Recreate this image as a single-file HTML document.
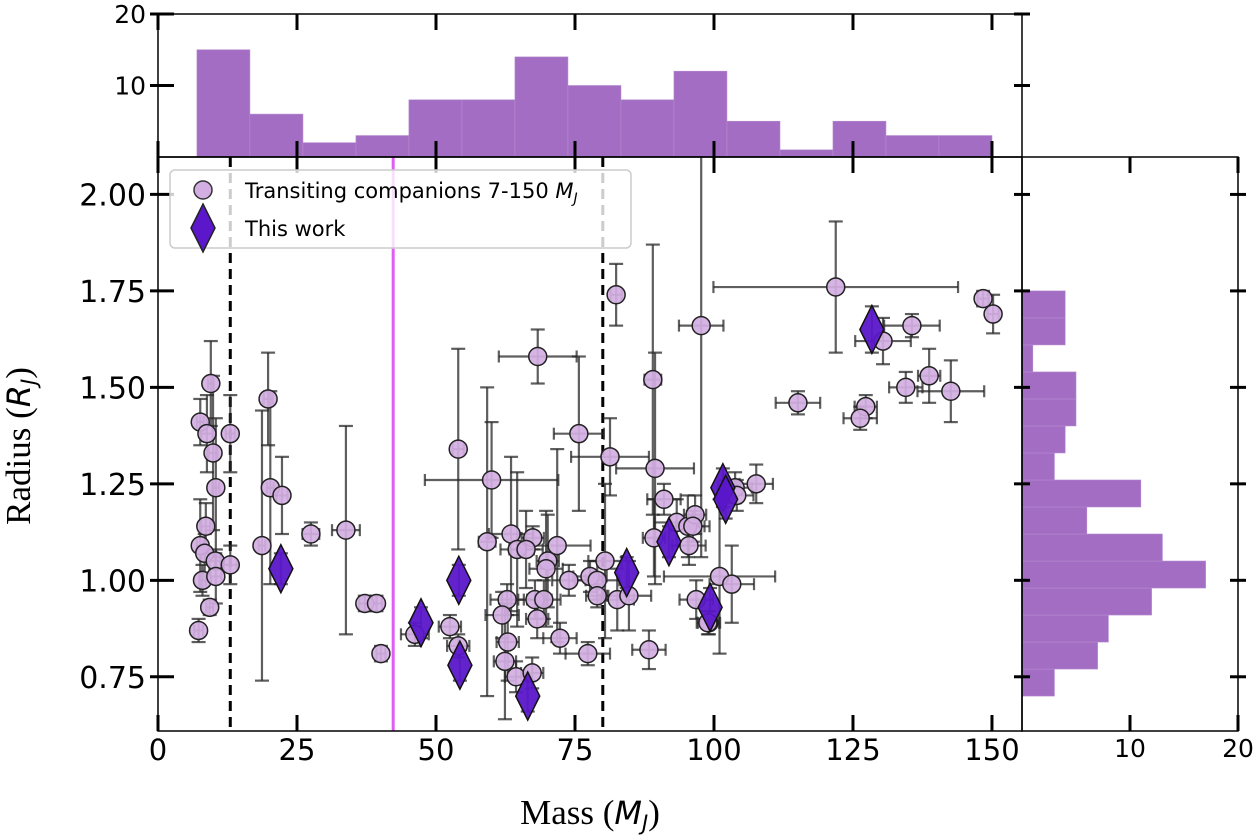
<!DOCTYPE html>
<html><head><meta charset="utf-8">
<style>
html,body{margin:0;padding:0;background:#fff;}
svg{display:block;font-family:"DejaVu Sans","Liberation Sans",sans-serif;}
</style></head>
<body>
<svg id="chart" width="1258" height="840" viewBox="0 0 1258 840" xmlns="http://www.w3.org/2000/svg">
<defs><clipPath id="mainClip"><rect x="158" y="157" width="864" height="574"/></clipPath></defs>
<g id="topHist"></g>
<g id="rightHist"></g>
<g id="main" clip-path="url(#mainClip)"></g>
<g id="axes"></g>
<text x="590" y="824" text-anchor="middle" font-family="Liberation Serif, serif" font-size="35">Mass (<tspan font-style="italic" font-family="DejaVu Sans, sans-serif" font-size="32">M</tspan><tspan font-style="italic" font-family="DejaVu Sans, sans-serif" font-size="21" dy="6">J</tspan><tspan dy="-6">)</tspan></text>
<text transform="translate(30,446) rotate(-90)" text-anchor="middle" font-family="Liberation Serif, serif" font-size="35">Radius (<tspan font-style="italic" font-family="DejaVu Sans, sans-serif" font-size="32">R</tspan><tspan font-style="italic" font-family="DejaVu Sans, sans-serif" font-size="21" dy="6">J</tspan><tspan dy="-6">)</tspan></text>
<g>
<rect x="170" y="170" width="461" height="78" rx="5" fill="#fff" fill-opacity="0.8" stroke="#ccc" stroke-width="1.5"/>
<circle cx="203" cy="190" r="9" fill="#d2aee2" stroke="#333" stroke-width="1.5"/>
<polygon points="203,204 215,228 203,252 191,228" fill="#5b17c9" stroke="#222" stroke-width="1.5"/>
<text x="245" y="198" font-size="21">Transiting companions 7-150 <tspan font-style="italic">M</tspan><tspan font-style="italic" font-size="14" dy="5">J</tspan></text>
<text x="245" y="236" font-size="21">This work</text>
</g>
</svg>
<script>
// ---- data ----
const histMassEdges = [7,16.53,26.07,35.6,45.13,54.67,64.2,73.73,83.27,92.8,102.33,111.87,121.4,130.93,140.47,150];
const histMassCounts = [15,6,2,3,8,8,14,10,8,12,5,1,5,3,3];
const histRadiusEdges = [0.70,0.77,0.84,0.91,0.98,1.05,1.12,1.19,1.26,1.33,1.40,1.47,1.54,1.61,1.68,1.75];
const histRadiusCounts = [3,7,8,12,17,13,6,11,3,4,5,5,1,4,4];
const compMass = [7.6,9.5,8.8,9.9,10.4,8.6,7.6,8.4,10.3,8.0,10.4,9.3,7.3,13,13,19.8,20.2,22.3,18.7,27.5,33.8,37.2,39.3,40.1,46.2,
 54,68.3,75.7,81.3,89,89.4,60,59.2,63.5,67.4,64.6,66.2,71.8,70.1,69.8,73.9,77.7,79,80.4,79,82.6,84.7,62.8,67.8,69.4,61.9,68.2,72.3,77.3,88.3,52.5,54,62.9,62.4,64.4,67.3,
 89.2,91,93.3,95.3,96.6,96.2,95.5,101,96.8,99.1,97.7,82.4,
 121.9,148.4,150.2,130.4,135.6,115.1,127.3,126.3,134.5,138.7,142.6,107.6,103.8,104.1,103.2,98.9];
const compRadius = [1.41,1.51,1.38,1.33,1.24,1.14,1.09,1.07,1.05,1.00,1.01,0.93,0.87,1.38,1.04,1.47,1.24,1.22,1.09,1.12,1.13,0.94,0.94,0.81,0.86,
 1.34,1.58,1.38,1.32,1.52,1.29,1.26,1.10,1.12,1.11,1.08,1.08,1.09,1.05,1.03,1.00,1.01,1.00,1.05,0.96,0.95,0.96,0.95,0.95,0.95,0.91,0.90,0.85,0.81,0.82,0.88,0.83,0.84,0.79,0.75,0.76,
 1.11,1.21,1.15,1.14,1.17,1.14,1.09,1.01,0.95,0.89,1.66,1.74,
 1.76,1.73,1.69,1.62,1.66,1.46,1.45,1.42,1.50,1.53,1.49,1.25,1.24,1.22,0.99,0.89];
const compMassErr = [0.6,0.5,1,0.8,0.6,0.8,0.6,0.6,1,0.6,1,0.6,0.8,0.8,1.2,0.8,0.6,1,0.6,1.5,2.5,1,1,0.8,2.5,
 1,7,4.5,7,1.5,7,12,1.5,4,2,3,3,6,2,3,3,3,4,3,2,3,4,3,3,3,3,2,3,4,3,2,2,2,2,2,2,
 2,3,4,3,2,3,3,10,3,2,4,1,
 22,1,1,5,5,4,2,3,3,2,6,3,3,3,4,2];
const compRadErr = [0.06,0.11,0.1,0.2,0.18,0.06,0.12,0.05,0.02,0.04,0.07,0.02,0.03,0.1,0.05,0.12,0.25,0.1,0.35,0.03,0.27,0.02,0.02,0.02,0.03,
 0.26,0.07,0.2,0.1,0.35,0.3,0.15,0.4,0.2,0.03,0.2,0.1,0.25,0.12,0.15,0.04,0.04,0.05,0.2,0.03,0.08,0.09,0.04,0.05,0.05,0.06,0.05,0.04,0.03,0.05,0.03,0.03,0.1,0.15,0.04,0.04,
 0.1,0.04,0.06,0.08,0.05,0.04,0.05,0.2,0.05,0.03,0.6,0.08,
 0.17,0.02,0.05,0.06,0.03,0.03,0.03,0.03,0.04,0.07,0.08,0.05,0.04,0.04,0.1,0.03];
const workMass = [22.1,47.3,54.1,54.3,66.5,84.3,91.9,99.3,101.6,102.1,128.4];
const workRadius = [1.03,0.89,1.00,0.78,0.70,1.02,1.10,0.93,1.24,1.21,1.65];
const workRadErr = [0.04,0.04,0.04,0.04,0.04,0.04,0.04,0.05,0.05,0.05,0.06];
const xTicks = [0,25,50,75,100,125,150];
const yTicks = [0.75,1.00,1.25,1.50,1.75,2.00];
const yTickLabels = ["0.75","1.00","1.25","1.50","1.75","2.00"];
const topHistTicks = [10,20];
const rightHistTicks = [10,20];
const boundaryLines = [13,80];
const deuteriumLine = 42.3;

// ---- scales ----
const X0=158,X1=1022,Y0=731,Y1=157;
const xMin=0,xMax=155.4,yMin=0.6095,yMax=2.097;
const sx=m=>X0+(m-xMin)/(xMax-xMin)*(X1-X0);
const sy=r=>Y0-(r-yMin)/(yMax-yMin)*(Y0-Y1);
const TH0=157,TH1=14; const sth=c=>TH0-c*(TH0-TH1)/20;
const RH0=1022,RH1=1238; const srh=c=>RH0+c*(RH1-RH0)/20;
const NS="http://www.w3.org/2000/svg";
function mk(tag,attrs,parent){const e=document.createElementNS(NS,tag);for(const k in attrs)e.setAttribute(k,attrs[k]);parent.appendChild(e);return e;}
const HC="#a36dc3";
const topG=document.getElementById('topHist'),rightG=document.getElementById('rightHist'),mainG=document.getElementById('main'),axG=document.getElementById('axes');

histMassCounts.forEach((c,i)=>{
 const r=mk('rect',{x:sx(histMassEdges[i]),y:sth(c),width:sx(histMassEdges[i+1])-sx(histMassEdges[i]),height:TH0-sth(c),fill:HC,stroke:"#b58ad0","stroke-width":0.6},topG);
 
 
});
histRadiusCounts.forEach((c,i)=>{
 const yt=sy(histRadiusEdges[i+1]),yb=sy(histRadiusEdges[i]);
 const r=mk('rect',{x:RH0,y:yt,width:srh(c)-RH0,height:yb-yt,fill:HC,stroke:"#b58ad0","stroke-width":0.6},rightG);
 
 
});

boundaryLines.forEach(m=>{
 const l=mk('line',{x1:sx(m),x2:sx(m),y1:Y1,y2:Y0,stroke:"#000","stroke-width":3,"stroke-dasharray":"10,6"},mainG);
 
 
});
{const l=mk('line',{x1:sx(deuteriumLine),x2:sx(deuteriumLine),y1:Y1,y2:Y0,stroke:"#e05cf5","stroke-width":3},mainG);
 
 }

const EC="rgba(40,40,40,0.75)";
function errbar(m,r,em,er){
 const g=mk('g',{stroke:EC,"stroke-width":2.2,fill:"none"},mainG);
 
 
 const x=sx(m),y=sy(r);
 if(em>0){const xa=sx(m-em),xb=sx(m+em);
  mk('line',{x1:xa,x2:xb,y1:y,y2:y},g);mk('line',{x1:xa,x2:xa,y1:y-6,y2:y+6},g);mk('line',{x1:xb,x2:xb,y1:y-6,y2:y+6},g);}
 const ya=sy(r+er),yb=sy(r-er);
 mk('line',{x1:x,x2:x,y1:ya,y2:yb},g);mk('line',{x1:x-7,x2:x+7,y1:ya,y2:ya},g);mk('line',{x1:x-7,x2:x+7,y1:yb,y2:yb},g);
}
compMass.forEach((m,i)=>errbar(m,compRadius[i],compMassErr[i],compRadErr[i]));
workMass.forEach((m,i)=>errbar(m,workRadius[i],0,workRadErr[i]));
compMass.forEach((m,i)=>{
 const c=mk('circle',{cx:sx(m),cy:sy(compRadius[i]),r:9,fill:"#d2aee2","fill-opacity":0.92,stroke:"#222","stroke-width":1.5},mainG);
 
 
});
workMass.forEach((m,i)=>{
 const x=sx(m),y=sy(workRadius[i]);
 const p=mk('polygon',{points:`${x},${y-24} ${x+12},${y} ${x},${y+24} ${x-12},${y}`,fill:"#5b17c9","fill-opacity":0.95,stroke:"#111","stroke-width":1.5},mainG);
 
 
});

function frame(x,y,w,h,name){const r=mk('rect',{x:x,y:y,width:w,height:h,fill:"none",stroke:"#000","stroke-width":1.5},axG);
 
 }
frame(X0,Y1,X1-X0,Y0-Y1,'main-frame');
frame(X0,TH1,X1-X0,TH0-TH1,'top-hist-frame');
frame(RH0,Y1,RH1-RH0,Y0-Y1,'right-hist-frame');

const TL=16;
function tick(x1,y1,x2,y2){mk('line',{x1,y1,x2,y2,stroke:"#000","stroke-width":3},axG);}
function label(x,y,t,anchor,size,name){const e=mk('text',{x:x,y:y,"text-anchor":anchor,"font-size":size,fill:"#000"},axG);e.textContent=t;
 
 }
xTicks.forEach(v=>{const x=sx(v);tick(x,Y0,x,Y0-TL);tick(x,Y1,x,Y1+TL);tick(x,TH0,x,TH0-TL);tick(x,TH1,x,TH1+TL);
 label(x,760,String(v),'middle',29,'x-tick-label');});
yTicks.forEach((v,i)=>{const y=sy(v);tick(X0-8,y,X0+TL,y);tick(X1-8,y,X1+8,y);tick(RH1-8,y,RH1+8,y);
 label(146,y+11,yTickLabels[i],'end',30,'y-tick-label');});
topHistTicks.forEach(v=>{const y=sth(v);tick(X0-8,y,X0+TL,y);tick(X1-8,y,X1+8,y);label(146,y+9,String(v),'end',25,'top-hist-tick-label');});
rightHistTicks.forEach(v=>{const x=srh(v);tick(x,Y0,x,Y0-TL);tick(x,Y1,x,Y1+TL);label(x,757,String(v),'middle',25,'right-hist-tick-label');});
</script>
</body></html>
